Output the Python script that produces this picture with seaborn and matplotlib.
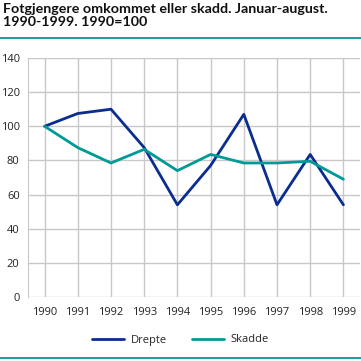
import matplotlib
matplotlib.use("Agg")
import matplotlib.pyplot as plt
import seaborn as sns
import pandas as pd
from matplotlib.lines import Line2D

years = [1990, 1991, 1992, 1993, 1994, 1995, 1996, 1997, 1998, 1999]
drepte = [100, 107.5, 110, 87.5, 54, 77, 107, 54, 83.5, 54]
skadde = [100, 87.5, 78.5, 86.5, 74, 83.5, 78.5, 78.5, 79.5, 69]
series_names = ["Drepte", "Skadde"]
colors = ["#0a2d8f", "#009a96"]
yticks = [0, 20, 40, 60, 80, 100, 120, 140]

df = pd.DataFrame({"year": years * 2,
                   "value": drepte + skadde,
                   "serie": [series_names[0]] * len(years) + [series_names[1]] * len(years)})
df["xpos"] = df["year"] - years[0]

sns.set_style("white")
plt.rcParams['font.family'] = ['Open Sans', 'DejaVu Sans']

W, H = 361, 361
fig = plt.figure(figsize=(W / 100, H / 100), dpi=100)
ax = fig.add_axes([28 / W, (H - 297) / H, (360 - 28) / W, (297 - 58) / H])

sns.lineplot(data=df, x="xpos", y="value", hue="serie", palette=colors,
             linewidth=2, ax=ax, legend=False)

ax.set_xlim(-0.5, len(years) - 0.5)
ax.set_ylim(0, 140)
ax.set_yticks(yticks)
ax.set_xticks(range(len(years)))
ax.set_xticklabels([str(y) for y in years])
ax.grid(True, color="#c8c8c8", linewidth=1)
ax.set_axisbelow(True)
for s in ["top", "right", "bottom"]:
    ax.spines[s].set_visible(False)
ax.spines["left"].set_color("#c8c8c8")
ax.tick_params(axis="both", length=0, labelsize=8, colors="#222222")
ax.tick_params(axis="x", pad=7)
ax.tick_params(axis="y", pad=6)
ax.set_xlabel("")
ax.set_ylabel("")

fig.text(3 / W, 1 - 3 / H, "Fotgjengere omkommet eller skadd. Januar-august.\n1990-1999. 1990=100",
         ha="left", va="top", fontsize=10.3, fontweight="bold", color="#111111",
         linespacing=1.1, family=["Lato", "DejaVu Sans"])
fig.add_artist(Line2D([0, 1], [1 - 37.5 / H, 1 - 37.5 / H], color="#009a96", linewidth=1.3))
fig.add_artist(Line2D([0, 1], [1 - 357.5 / H, 1 - 357.5 / H], color="#009a96", linewidth=1.3))

handles = [Line2D([], [], color=c, linewidth=2) for c in colors]
fig.legend(handles, series_names, loc="center", bbox_to_anchor=(0.5, 1 - 340 / H),
           ncol=2, frameon=False, fontsize=8, handlelength=2.9, columnspacing=2.3,
           handletextpad=0.55)

fig.savefig("out.png", dpi=100)
